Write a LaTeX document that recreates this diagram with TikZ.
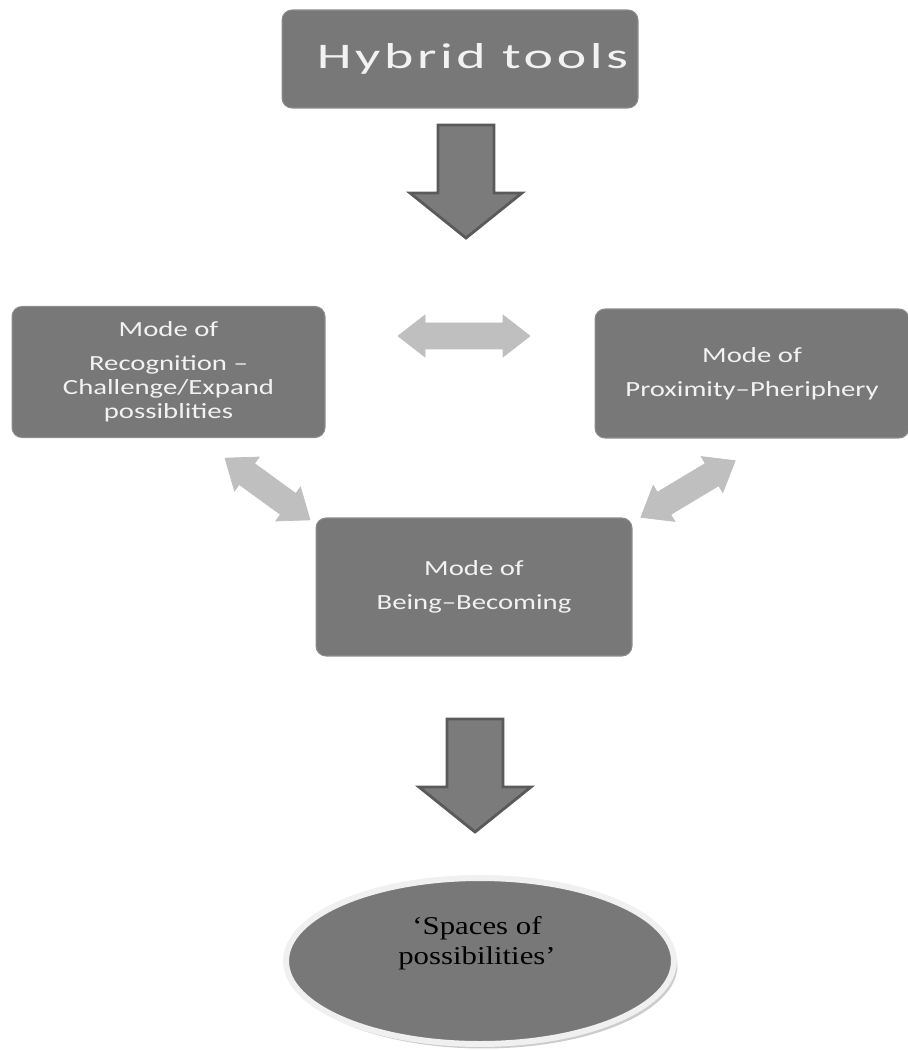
\documentclass[tikz,border=0pt]{standalone}
\usepackage{fontspec}
\usepackage{tikz}
\usetikzlibrary{shapes,shapes.geometric,shadows}
\newfontfamily\boxfont[FakeStretch=1.33]{Carlito}
\newfontfamily\titlefont[FakeStretch=1.55,LetterSpace=10]{Carlito}
\newfontfamily\ovalfont[FakeStretch=1.2]{Liberation Serif}
\definecolor{modegray}{HTML}{787878}
\definecolor{modeedge}{HTML}{8C8C8C}
\definecolor{arrgray}{HTML}{BFBFBF}
\definecolor{downfill}{HTML}{7B7B7B}
\definecolor{downedge}{HTML}{5A5A5A}
\definecolor{modetext}{HTML}{F2F2F2}
\newcommand{\dblarrow}[4]{\draw[dblarr,shift={(#1,#2)},rotate=#3] (-#4,0)--(-#4+27,21)--(-#4+27,13)--(#4-27,13)--(#4-27,21)--(#4,0)--(#4-27,-21)--(#4-27,-13)--(-#4+27,-13)--(-#4+27,-21)--cycle;}
\newcommand{\downarr}[2]{\draw[downarr] (#1-28,#2)--(#1+28,#2)--(#1+28,#2+68)--(#1+56,#2+68)--(#1,#2+113)--(#1-56,#2+68)--(#1-28,#2+68)--cycle;}
\begin{document}
\begin{tikzpicture}[x=0.02cm,y=-0.02cm,
	modebox/.style={rectangle,rounded corners=0.2cm,fill=modegray,draw=modeedge,line width=0.6pt,
		text=modetext,align=center,font=\boxfont\fontsize{12.3}{13.6}\selectfont},
	dblarr/.style={fill=arrgray,draw=arrgray,line width=0.4pt,line join=miter},
	downarr/.style={fill=downfill,draw=downedge,line width=1.6pt,line join=miter}]
	\useasboundingbox (0,0) rectangle (907,1050);
		\node[modebox,minimum width=7.12cm,minimum height=1.96cm,font=\titlefont\fontsize{20.5}{22}\selectfont] (hybrid) at (460,59) {\hspace*{0.5cm}Hybrid tools};
		\node[modebox,minimum width=6.26cm,minimum height=2.62cm] (recog) at (168.5,372) {Mode of\\[5.7pt]Recognition –\\Challenge/Expand\\possiblities};
		\node[modebox,minimum width=6.28cm,minimum height=2.58cm] (proxim) at (752,373.5) {Mode of\\[5.7pt]Proximity–Pheriphery};
		\node[modebox,minimum width=6.32cm,minimum height=2.76cm] (being) at (474,587) {Mode of\\[5.7pt]Being–Becoming};
		\node[ellipse,minimum width=7.76cm,minimum height=3.32cm,fill=modegray,draw=white!94!black,line width=3.4pt,
			drop shadow={shadow xshift=0.07cm,shadow yshift=-0.09cm,fill=black!40}] (spaces) at (480,961) {};
		\node[align=center,text=black,font=\ovalfont\fontsize{14.6}{17}\selectfont] (spacestext) at (477,943) {‘Spaces of\\possibilities’};
		\downarr{466}{125}
		\downarr{475}{719}
		\dblarrow{464}{336}{0}{66}
		\dblarrow{267.5}{489}{-36}{52.5}
		\dblarrow{688}{489}{31}{55}
\end{tikzpicture}
\end{document}
